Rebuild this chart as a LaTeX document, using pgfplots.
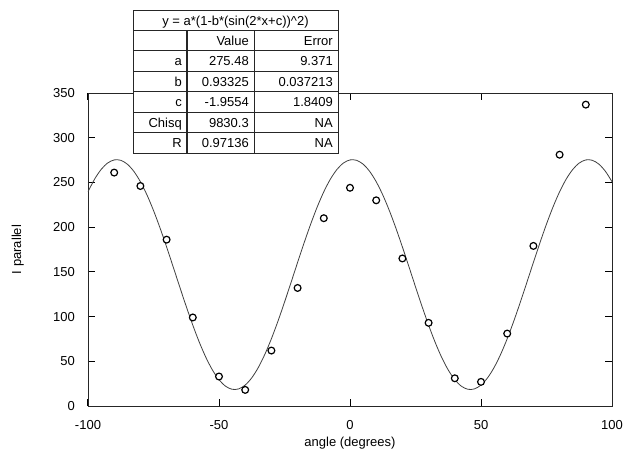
\documentclass[border=0pt]{standalone}
\usepackage{fontspec}
\setmainfont{Liberation Sans}
\usepackage{pgfplots}
\pgfplotsset{compat=1.18}

\begin{document}
\begin{tikzpicture}[font=\fontsize{13bp}{15bp}\selectfont]
\begin{axis}[
    at={(0,0)}, anchor=south west,
    scale only axis, width=524bp, height=313bp,
    xmin=-100, xmax=100, ymin=0, ymax=350,
    xtick={-100,-50,...,100}, ytick={0,50,...,350},
    major tick length=7bp,
    tick style={black, line width=1bp},
    axis line style={line width=0.9bp, black!85},
    /pgf/number format/assume math mode=true,
    every tick label/.append style={inner sep=0pt, font=\fontsize{13bp}{15bp}\selectfont},
    xticklabel style={anchor=north, yshift=-14bp},
    yticklabel style={anchor=east, xshift=-13bp},
    xlabel={angle (degrees)}, ylabel={I parallel},
    xlabel style={at={(axis description cs:0.5,-0.118)}, anchor=center, inner sep=0pt},
    ylabel style={at={(axis description cs:-0.134,0.5)}, anchor=center, inner sep=0pt},
]
% fitted curve y = a*(1-b*sin^2(2x+c)), sampled every 2.5 degrees
\addplot[black!75, line width=0.8bp, smooth] coordinates {
(-100,239.54) (-97.5,253.62) (-95,264.45) (-92.5,271.71) (-90,275.18)
(-87.5,274.75) (-85,270.44) (-82.5,262.38) (-80,250.81) (-77.5,236.08)
(-75,218.65) (-72.5,199.03) (-70,177.83) (-67.5,155.70) (-65,133.29)
(-62.5,111.30) (-60,90.40) (-57.5,71.21) (-55,54.32) (-52.5,40.24)
(-50,29.41) (-47.5,22.15) (-45,18.68) (-42.5,19.11) (-40,23.42)
(-37.5,31.48) (-35,43.05) (-32.5,57.78) (-30,75.21) (-27.5,94.83)
(-25,116.03) (-22.5,138.16) (-20,160.57) (-17.5,182.56) (-15,203.46)
(-12.5,222.65) (-10,239.54) (-7.5,253.62) (-5,264.45) (-2.5,271.71)
(0,275.18) (2.5,274.75) (5,270.44) (7.5,262.38) (10,250.81)
(12.5,236.08) (15,218.65) (17.5,199.03) (20,177.83) (22.5,155.70)
(25,133.29) (27.5,111.30) (30,90.40) (32.5,71.21) (35,54.32)
(37.5,40.24) (40,29.41) (42.5,22.15) (45,18.68) (47.5,19.11)
(50,23.42) (52.5,31.48) (55,43.05) (57.5,57.78) (60,75.21)
(62.5,94.83) (65,116.03) (67.5,138.16) (70,160.57) (72.5,182.56)
(75,203.46) (77.5,222.65) (80,239.54) (82.5,253.62) (85,264.45)
(87.5,271.71) (90,275.18) (92.5,274.75) (95,270.44) (97.5,262.38)
(100,250.81)
};
% measured points
\addplot[only marks, mark=*, mark size=3.4bp,
    mark options={draw=black, fill=white, line width=1.2bp}] coordinates {
(-90,261) (-80,246) (-70,186) (-60,99) (-50,33) (-40,18) (-30,62)
(-20,132) (-10,210) (0,244) (10,230) (20,165) (30,93) (40,31)
(50,27) (60,81) (70,179) (80,281) (90,337)
};
\end{axis}

% fit parameter table
\begin{scope}[x=1bp,y=1bp]
\def\rh{20.43}
\fill[white] (45,253) rectangle (250,396);
\draw[line width=0.9bp, black!85] (45,253) rectangle (250,396);
\draw[line width=1.4bp, black!85] (45,375.57) -- (250,375.57);
\foreach \i in {2,...,6} \draw[line width=0.9bp, black!85] (45,253+\i*\rh-\rh) -- (250,253+\i*\rh-\rh);
\draw[line width=1.4bp, black!85] (99,253) -- (99,375.57);
\draw[line width=0.9bp, black!85] (166,253) -- (166,375.57);
\node[anchor=base, inner sep=0pt] at (147.5,381) {y = a*(1-b*(sin(2*x+c))\^{}2)};
\foreach \lab/\val/\err [count=\r] in {{}/Value/Error, a/275.48/9.371, b/0.93325/0.037213,
    c/-1.9554/1.8409, Chisq/9830.3/NA, R/0.97136/NA} {
  \pgfmathsetmacro{\yb}{375.57-\r*\rh+5.5}
  \node[anchor=base east, inner sep=0pt] at (94,\yb) {\lab};
  \node[anchor=base east, inner sep=0pt] at (161,\yb) {\val};
  \node[anchor=base east, inner sep=0pt] at (245,\yb) {\err};
}
\end{scope}
\pgfresetboundingbox
\path[use as bounding box] (-88bp,-56bp) rectangle (535bp,406bp);
\end{tikzpicture}
\end{document}
